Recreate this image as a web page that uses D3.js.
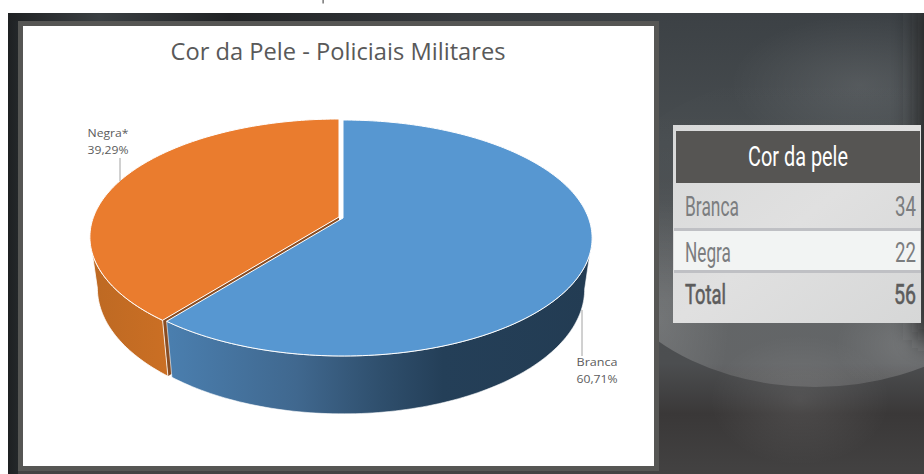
<!DOCTYPE html>
<html lang="pt">
<head>
<meta charset="utf-8">
<title>Cor da Pele - Policiais Militares</title>
<script src="https://cdn.jsdelivr.net/npm/d3@7/dist/d3.min.js"></script>
<style>
  html, body { margin: 0; padding: 0; background: #fff; }
  svg { display: block; }
</style>
</head>
<body>
<svg id="slide" width="924" height="474"></svg>
<script>
// Chart data
const sliceNames = ["Branca", "Negra*"];
const slicePercents = [60.71, 39.29];
const sliceLabels = ["60,71%", "39,29%"];

// Table data
const tableTitle = "Cor da pele";
const tableNames = ["Branca", "Negra", "Total"];
const tableCounts = [34, 22, 56];

const svg = d3.select("#slide");
const defs = svg.append("defs");

function linear(id, x1, y1, x2, y2, stops, user) {
  const g = defs.append("linearGradient").attr("id", id)
    .attr("x1", x1).attr("y1", y1).attr("x2", x2).attr("y2", y2);
  if (user) g.attr("gradientUnits", "userSpaceOnUse");
  stops.forEach(([o, c, a]) => g.append("stop").attr("offset", o)
    .attr("stop-color", c).attr("stop-opacity", a === undefined ? 1 : a));
}
function radial(id, stops) {
  const g = defs.append("radialGradient").attr("id", id);
  stops.forEach(([o, c, a]) => g.append("stop").attr("offset", o)
    .attr("stop-color", c).attr("stop-opacity", a));
}

linear("slideBg", 0, 0, 0, 1, [[0, "#3c4145"], [0.28, "#484d50"], [0.6, "#4c4f51"], [0.76, "#4c4e50"], [0.87, "#3a3838"], [1, "#434242"]]);
linear("dome", 0, 0, 0, 1, [[0, "#ffffff", 0], [0.35, "#ffffff", 0.02], [0.72, "#ffffff", 0.13], [1, "#ffffff", 0.13]]);
linear("leftStrip", 0, 0, 1, 0, [[0, "#1e2022"], [1, "#24272a"]]);
linear("topStrip", 0, 0, 1, 0, [[0, "#1f2123"], [0.14, "#3a3f42"], [0.34, "#202224"], [0.7, "#363a3e"], [1, "#3c4145"]]);
linear("tableBg", 0, 0, 1, 1, [[0, "#d8d9d9"], [0.5, "#e0e0e0"], [1, "#d6d7d7"]]);
linear("blueSide", 170, 0, 590, 0, [[0, "#4a7eae"], [0.3, "#40688f"], [0.5, "#2f4f6d"], [0.65, "#243f58"], [1, "#233c53"]], true);
linear("orangeSide", 90, 0, 170, 0, [[0, "#bd6923"], [1, "#cb6f24"]], true);
radial("glow", [[0, "#ffffff", 0.1], [1, "#ffffff", 0]]);
defs.append("filter").attr("id", "soft").attr("x", "-100%").attr("width", "300%").attr("y", "-20%").attr("height", "140%")
  .append("feGaussianBlur").attr("stdDeviation", 12);
defs.append("clipPath").attr("id", "domeClip").append("ellipse")
  .attr("cx", 815).attr("cy", 230).attr("rx", 222).attr("ry", 157);

// Slide background
const backdrop = svg.append("g");
backdrop.append("rect").attr("x", 8).attr("y", 13).attr("width", 916).attr("height", 461).attr("fill", "url(#slideBg)");
backdrop.append("ellipse").attr("cx", 815).attr("cy", 230).attr("rx", 222).attr("ry", 157).attr("fill", "url(#dome)");
backdrop.append("ellipse").attr("cx", 860).attr("cy", 85).attr("rx", 130).attr("ry", 70).attr("fill", "url(#glow)");
backdrop.append("ellipse").attr("cx", 800).attr("cy", 400).attr("rx", 90).attr("ry", 65).attr("fill", "url(#glow)");
// Brighter corners of the dome on either side of the table
const domeGlow = backdrop.append("g").attr("clip-path", "url(#domeClip)");
domeGlow.append("ellipse").attr("cx", 660).attr("cy", 320).attr("rx", 70).attr("ry", 120).attr("fill", "url(#glow)");
domeGlow.append("ellipse").attr("cx", 905).attr("cy", 345).attr("rx", 70).attr("ry", 50).attr("fill", "url(#glow)");
svg.append("rect").attr("x", 918).attr("y", 0).attr("width", 40).attr("height", 340)
  .attr("fill", "#262626").attr("filter", "url(#soft)");
svg.append("rect").attr("x", 0).attr("y", 0).attr("width", 924).attr("height", 13).attr("fill", "#ffffff");
svg.append("rect").attr("x", 8).attr("y", 13).attr("width", 10).attr("height", 461).attr("fill", "url(#leftStrip)");
svg.append("rect").attr("x", 8).attr("y", 13).attr("width", 650).attr("height", 8).attr("fill", "url(#topStrip)");

// Frame and white chart area
svg.append("rect").attr("x", 18).attr("y", 21).attr("width", 641).attr("height", 450).attr("fill", "#565654");
svg.append("rect").attr("x", 23).attr("y", 26).attr("width", 631).attr("height", 440).attr("fill", "#ffffff");
svg.append("rect").attr("x", 322.5).attr("y", 0).attr("width", 1.2).attr("height", 3.5).attr("fill", "#555");

// Title
svg.append("text").attr("x", 338).attr("y", 60).attr("text-anchor", "middle")
  .attr("font-family", "'Open Sans', sans-serif").attr("font-size", 24).attr("fill", "#595959")
  .attr("textLength", 335).attr("lengthAdjust", "spacingAndGlyphs")
  .text("Cor da Pele - Policiais Militares");

// Tilted pie: each disc is a perspective view of a unit circle
const tilt = 0.1695;
const disc = { cx: 343, cy: 218, a: 245.5, b: 114.6, scaleX: 1, scaleY: 1, drop: 0 };
const floorDisc = { ...disc, scaleX: 0.97, scaleY: 1.057, drop: 50 };

function project(angle, d, dx = 0, dy = 0, r = 1) {
  const u = Math.sin(angle) * r, v = -Math.cos(angle) * r;
  const w = 1 - tilt * v;
  return [d.cx + dx + d.scaleX * d.a * u / w, d.cy + dy + d.drop + d.scaleY * d.b * v / w];
}
function arcPoints(a0, a1, d, dx, dy) {
  const n = Math.max(2, Math.ceil(Math.abs(a1 - a0) / 0.02));
  return d3.range(n + 1).map(i => project(a0 + (a1 - a0) * i / n, d, dx, dy));
}
const path = d3.line().curve(d3.curveLinear);

const slices = d3.pie().sort(null)(slicePercents);
const [blue, orange] = slices;
const rad = deg => deg * Math.PI / 180;
const orangeShift = [-4, -1];

const piePaths = svg.append("g").attr("stroke-linejoin", "round");

// Exposed cut wall of the pulled-out slice
const [ox, oy] = orangeShift;
piePaths.append("path")
  .attr("d", path([project(0, disc, ox, oy, 0), project(orange.startAngle, disc, ox, oy),
    project(orange.startAngle, floorDisc, ox, oy), project(0, floorDisc, ox, oy, 0)]) + "Z")
  .attr("fill", "#8a4d22");

// Orange outer wall, up to the left silhouette tangent
const orangeWallEnd = rad(260.2);
piePaths.append("path")
  .attr("d", path([...arcPoints(orange.startAngle, orangeWallEnd, disc, ox, oy),
    ...arcPoints(orangeWallEnd, orange.startAngle, floorDisc, ox, oy)]) + "Z")
  .attr("fill", "url(#orangeSide)").attr("stroke", "#ffffff").attr("stroke-width", 0.8);

// Orange top face
piePaths.append("path")
  .attr("d", path([project(0, disc, ox, oy, 0), ...arcPoints(orange.startAngle, orange.endAngle, disc, ox, oy)]) + "Z")
  .attr("fill", "#ea7c2e").attr("stroke", "#ffffff").attr("stroke-width", 1);

// Blue outer wall, from the right silhouette tangent
const blueWallStart = rad(99.8);
piePaths.append("path")
  .attr("d", path([...arcPoints(blueWallStart, blue.endAngle, disc),
    ...arcPoints(blue.endAngle, blueWallStart, floorDisc)]) + "Z")
  .attr("fill", "url(#blueSide)").attr("stroke", "#ffffff").attr("stroke-width", 0.6);

// Blue top face
piePaths.append("path")
  .attr("d", path([project(0, disc, 0, 0, 0), ...arcPoints(blue.startAngle, blue.endAngle, disc)]) + "Z")
  .attr("fill", "#5797d1").attr("stroke", "#ffffff").attr("stroke-width", 1);

// Slice labels with leader lines
const labelSpots = [
  { x: 597, y: 366, line: [582, 310, 582, 356] },
  { x: 108, y: 137, line: [120, 158, 120, 181] }
];
labelSpots.forEach((spot, i) => {
  svg.append("line").attr("x1", spot.line[0]).attr("y1", spot.line[1])
    .attr("x2", spot.line[2]).attr("y2", spot.line[3])
    .attr("stroke", "#8c8c8c").attr("stroke-width", 0.8);
  [sliceNames[i], sliceLabels[i]].forEach((t, j) => {
    svg.append("text").attr("x", spot.x).attr("y", spot.y + j * 17).attr("text-anchor", "middle")
      .attr("font-family", "'Open Sans', sans-serif").attr("font-size", 11.5).attr("fill", "#5c5c5c")
      .attr("textLength", 41).attr("lengthAdjust", "spacingAndGlyphs").text(t);
  });
});

// Summary table
const tableFont = "'Liberation Sans Narrow', 'Roboto', sans-serif";
svg.append("rect").attr("x", 673).attr("y", 125).attr("width", 248).attr("height", 198).attr("fill", "url(#tableBg)");
svg.append("rect").attr("x", 676).attr("y", 131).attr("width", 244).attr("height", 52).attr("fill", "#565553");
svg.append("rect").attr("x", 674).attr("y", 231).attr("width", 246).attr("height", 39).attr("fill", "#f2f4f3");
[228, 270].forEach(y => svg.append("rect").attr("x", 674).attr("y", y).attr("width", 247).attr("height", 3).attr("fill", "#bfc0c4"));

svg.append("text").attr("x", 798).attr("y", 166).attr("text-anchor", "middle")
  .attr("font-family", tableFont).attr("font-size", 27).attr("fill", "#ffffff")
  .attr("textLength", 100).attr("lengthAdjust", "spacingAndGlyphs").text(tableTitle);

const rowBaselines = [216, 262, 304];
const nameWidths = [54, 46, 41];
const countWidths = [21, 21, 22];
tableNames.forEach((name, i) => {
  const total = name === "Total";
  const fill = total ? "#5c5c5c" : "#7b7d7f";
  const cells = [
    { x: 685, anchor: "start", len: nameWidths[i], text: name },
    { x: 916, anchor: "end", len: countWidths[i], text: tableCounts[i] }
  ];
  cells.forEach(c => {
    svg.append("text").attr("x", c.x).attr("y", rowBaselines[i]).attr("text-anchor", c.anchor)
      .attr("font-family", tableFont).attr("font-size", 27).attr("fill", fill)
      .attr("stroke", total ? fill : "none").attr("stroke-width", total ? 0.6 : 0)
      .attr("textLength", c.len).attr("lengthAdjust", "spacingAndGlyphs").text(c.text);
  });
});
</script>
</body>
</html>
